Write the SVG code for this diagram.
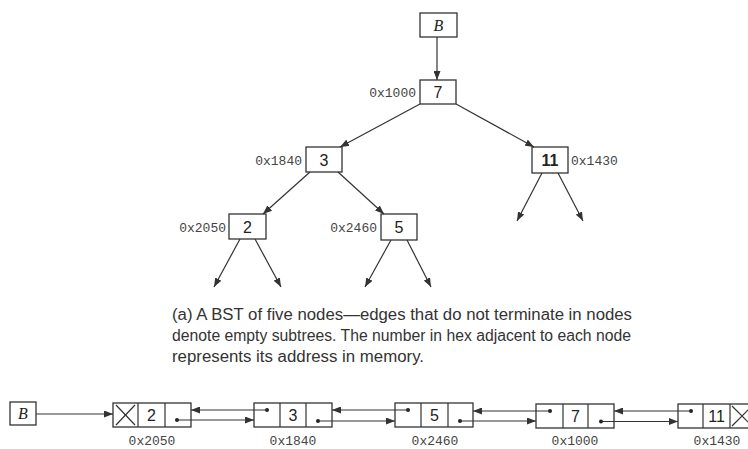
<svg xmlns="http://www.w3.org/2000/svg" width="748" height="449" viewBox="0 0 748 449">
<style>
.box{fill:#fff;stroke:#333;stroke-width:1.3}
.edge{stroke:#333;stroke-width:1.2;fill:none}
.val{font-family:"Liberation Sans",Arial,sans-serif;font-size:16px;fill:#222;text-anchor:middle}
.ptr{font-family:"Liberation Serif","Times New Roman",serif;font-style:italic;font-size:16px;fill:#222;text-anchor:middle}
.addr{font-family:"Liberation Mono","Courier New",monospace;font-size:13px;fill:#444}
.cap{font-family:"Liberation Sans",Arial,sans-serif;font-size:16px;fill:#333}
.dot{fill:#222}
</style>
<defs>
<marker id="ah" markerUnits="userSpaceOnUse" markerWidth="9" markerHeight="7" refX="9" refY="3.5" orient="auto">
<path d="M0,0 L9,3.5 L0,7 z" fill="#333"/>
</marker>
</defs>
<rect width="748" height="449" fill="#fff"/>

<!-- tree nodes -->
<g id="ptrB">
<rect class="box" x="420" y="13" width="37" height="24"/>
<text class="ptr" x="438.5" y="31">B</text>
</g>
<g id="n7">
<rect class="box" x="420" y="80" width="36" height="24"/>
<text class="val" x="438" y="98">7</text>
<text class="addr" x="416" y="97" text-anchor="end">0x1000</text>
</g>
<g id="n3">
<rect class="box" x="306" y="147" width="36" height="25"/>
<text class="val" x="324" y="165.5">3</text>
<text class="addr" x="302" y="164.5" text-anchor="end">0x1840</text>
</g>
<g id="n11">
<rect class="box" x="532" y="147" width="36" height="26"/>
<text class="val" x="550" y="166" font-weight="bold">11</text>
<text class="addr" x="571" y="164.5">0x1430</text>
</g>
<g id="n2">
<rect class="box" x="229" y="214" width="37" height="25"/>
<text class="val" x="247.5" y="232.5">2</text>
<text class="addr" x="226" y="231.5" text-anchor="end">0x2050</text>
</g>
<g id="n5">
<rect class="box" x="381" y="214" width="36" height="26"/>
<text class="val" x="399" y="233">5</text>
<text class="addr" x="377" y="231.5" text-anchor="end">0x2460</text>
</g>

<g id="tree-edges">
<line class="edge" x1="437" y1="37" x2="437" y2="80" marker-end="url(#ah)"/>
<line class="edge" x1="420" y1="104" x2="340" y2="147" marker-end="url(#ah)"/>
<line class="edge" x1="456" y1="104" x2="534" y2="147" marker-end="url(#ah)"/>
<line class="edge" x1="310" y1="172" x2="263" y2="214" marker-end="url(#ah)"/>
<line class="edge" x1="338" y1="172" x2="384" y2="214" marker-end="url(#ah)"/>
<line class="edge" x1="240" y1="239" x2="214" y2="287" marker-end="url(#ah)"/>
<line class="edge" x1="255" y1="239" x2="281" y2="287" marker-end="url(#ah)"/>
<line class="edge" x1="391" y1="240" x2="365" y2="287" marker-end="url(#ah)"/>
<line class="edge" x1="407" y1="240" x2="431" y2="287" marker-end="url(#ah)"/>
<line class="edge" x1="542" y1="173" x2="517" y2="221" marker-end="url(#ah)"/>
<line class="edge" x1="558" y1="173" x2="583" y2="221" marker-end="url(#ah)"/>
</g>

<g id="caption">
<text class="cap" x="172" y="320" textLength="460" lengthAdjust="spacingAndGlyphs">(a) A BST of five nodes—edges that do not terminate in nodes</text>
<text class="cap" x="172" y="341" textLength="459" lengthAdjust="spacingAndGlyphs">denote empty subtrees. The number in hex adjacent to each node</text>
<text class="cap" x="172" y="362" textLength="252" lengthAdjust="spacingAndGlyphs">represents its address in memory.</text>
</g>

<!-- list -->
<g id="listB">
<rect class="box" x="10" y="402" width="26" height="23"/>
<text class="ptr" x="23" y="419">B</text>
</g>
<g id="l2">
<rect class="box" x="113" y="403" width="78" height="24"/>
<line class="edge" x1="138" y1="403" x2="138" y2="427"/>
<line class="edge" x1="165" y1="403" x2="165" y2="427"/>
<line class="edge" x1="116" y1="405" x2="135" y2="425"/>
<line class="edge" x1="135" y1="405" x2="116" y2="425"/>
<text class="val" x="151.5" y="421">2</text>
<circle class="dot" cx="177" cy="420" r="2"/>
<text class="addr" x="152" y="445" text-anchor="middle">0x2050</text>
</g>
<g id="l3">
<rect class="box" x="254" y="403" width="78" height="24"/>
<line class="edge" x1="280" y1="403" x2="280" y2="427"/>
<line class="edge" x1="306" y1="403" x2="306" y2="427"/>
<text class="val" x="293" y="421">3</text>
<circle class="dot" cx="267" cy="410" r="2"/>
<circle class="dot" cx="318" cy="421" r="2"/>
<text class="addr" x="293" y="445" text-anchor="middle">0x1840</text>
</g>
<g id="l5">
<rect class="box" x="395" y="403" width="78" height="24"/>
<line class="edge" x1="421" y1="403" x2="421" y2="427"/>
<line class="edge" x1="448" y1="403" x2="448" y2="427"/>
<text class="val" x="434.5" y="421">5</text>
<circle class="dot" cx="408" cy="410" r="2"/>
<circle class="dot" cx="460" cy="421" r="2"/>
<text class="addr" x="435" y="445" text-anchor="middle">0x2460</text>
</g>
<g id="l7">
<rect class="box" x="536" y="404" width="78" height="24"/>
<line class="edge" x1="563" y1="404" x2="563" y2="428"/>
<line class="edge" x1="588" y1="404" x2="588" y2="428"/>
<text class="val" x="575.5" y="422">7</text>
<circle class="dot" cx="550" cy="411" r="2"/>
<circle class="dot" cx="601" cy="421.5" r="2"/>
<text class="addr" x="575" y="445" text-anchor="middle">0x1000</text>
</g>
<g id="l11">
<rect class="box" x="678" y="404" width="78" height="24"/>
<line class="edge" x1="703" y1="404" x2="703" y2="428"/>
<line class="edge" x1="730" y1="404" x2="730" y2="428"/>
<line class="edge" x1="732" y1="406" x2="752" y2="426"/>
<line class="edge" x1="752" y1="406" x2="732" y2="426"/>
<text class="val" x="716.5" y="422">11</text>
<circle class="dot" cx="691" cy="411" r="2"/>
<text class="addr" x="717" y="445" text-anchor="middle">0x1430</text>
</g>

<g id="list-edges">
<line class="edge" x1="36" y1="414" x2="113" y2="414" marker-end="url(#ah)"/>
<line class="edge" x1="177" y1="420" x2="254" y2="420" marker-end="url(#ah)"/>
<line class="edge" x1="267" y1="410" x2="191" y2="410" marker-end="url(#ah)"/>
<line class="edge" x1="318" y1="421" x2="395" y2="421" marker-end="url(#ah)"/>
<line class="edge" x1="408" y1="410" x2="332" y2="410" marker-end="url(#ah)"/>
<line class="edge" x1="460" y1="421" x2="536" y2="421" marker-end="url(#ah)"/>
<line class="edge" x1="550" y1="411" x2="473" y2="411" marker-end="url(#ah)"/>
<line class="edge" x1="601" y1="421.5" x2="678" y2="421.5" marker-end="url(#ah)"/>
<line class="edge" x1="691" y1="411" x2="614" y2="411" marker-end="url(#ah)"/>
</g>
</svg>
